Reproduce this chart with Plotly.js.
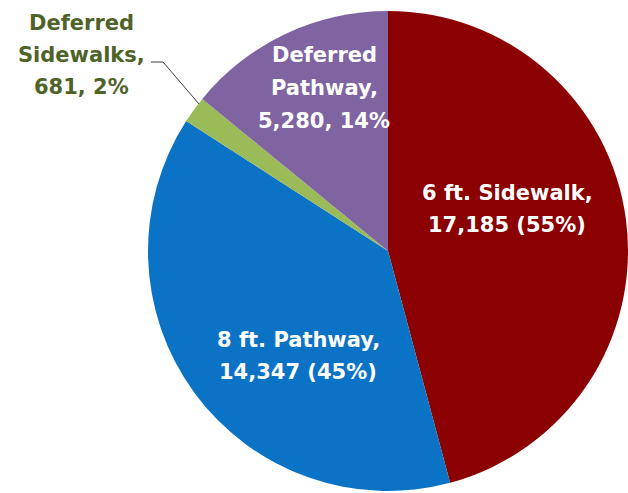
<!DOCTYPE html>
<html>
<head>
<meta charset="utf-8">
<script src="https://cdn.plot.ly/plotly-3.0.1.min.js"></script>
<style>
  html, body { margin: 0; padding: 0; background: #ffffff; overflow: hidden; }
  #chart { width: 628px; height: 493px; }
</style>
</head>
<body>
<div id="chart"></div>
<script>
// ---- data ----
const categories = ["6 ft. Sidewalk", "8 ft. Pathway", "Deferred Sidewalks", "Deferred Pathway"];
const values = [17185, 14347, 681, 5280];
const labelLines = [
  ["6 ft. Sidewalk,", "17,185 (55%)"],
  ["8 ft. Pathway,", "14,347 (45%)"],
  ["Deferred", "Sidewalks,", "681, 2%"],
  ["Deferred", "Pathway,", "5,280, 14%"]
];

// ---- styling ----
const sliceColors = ["#8B0000", "#0B73C6", "#9BBB59", "#8064A2"];
const labelColors = ["#ffffff", "#ffffff", "#4F6228", "#ffffff"];
const W = 628, H = 493;
// label centre x (px) and first-line baseline (px) for each slice label
const labelPos = [
  {x: 507, y: 200},
  {x: 298, y: 347},
  {x: 81,  y: 30},
  {x: 324, y: 63}
];
const lineGap = 32.5;
const fontFamily = "'DejaVu Sans', Verdana, sans-serif";
const fontSize = 21;

const annotations = [];
labelLines.forEach((lines, i) => {
  lines.forEach((t, j) => {
    annotations.push({
      text: "<b>" + t + "</b>",
      xref: "paper", yref: "paper",
      x: labelPos[i].x / W,
      y: 1 - (labelPos[i].y + j * lineGap - 7.5) / H,
      xanchor: "center", yanchor: "middle",
      showarrow: false,
      font: {family: fontFamily, size: fontSize, color: labelColors[i]}
    });
  });
});

const leader = [[151, 62], [163, 62], [199, 104]];
const path = leader.map((p, k) => (k ? "L" : "M") + (p[0] / W).toFixed(4) + "," + (1 - p[1] / H).toFixed(4)).join(" ");

const trace = {
  type: "pie",
  labels: categories,
  values: values,
  sort: false,
  direction: "clockwise",
  rotation: 0,
  textinfo: "none",
  hoverinfo: "label+value+percent",
  marker: {colors: sliceColors, line: {color: "#ffffff", width: 0}},
  domain: {x: [148 / W, 1], y: [0.002, 0.980]},
  showlegend: false
};

const layout = {
  width: W, height: H,
  margin: {l: 0, r: 0, t: 0, b: 0},
  paper_bgcolor: "#ffffff",
  showlegend: false,
  annotations: annotations,
  shapes: [{type: "path", xref: "paper", yref: "paper", path: path,
            line: {color: "#404040", width: 1}}]
};

Plotly.newPlot("chart", [trace], layout, {displayModeBar: false, staticPlot: true});
</script>
</body>
</html>
